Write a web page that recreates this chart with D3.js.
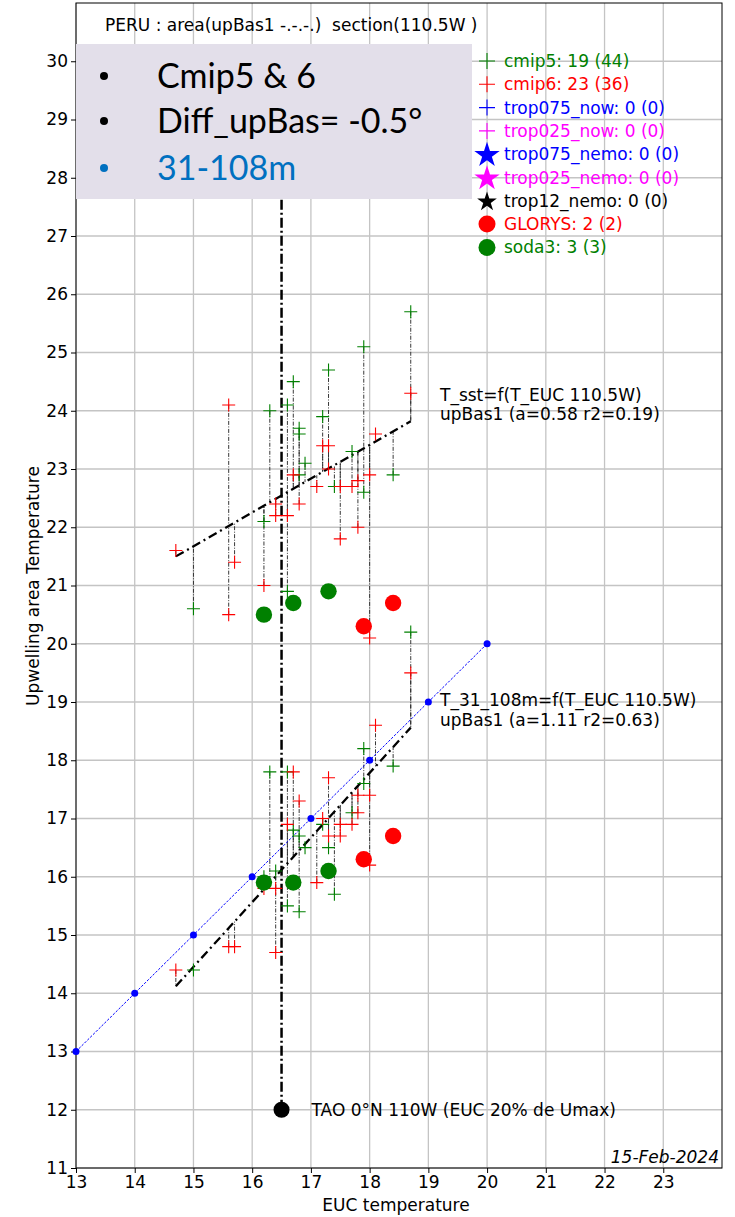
<!DOCTYPE html>
<html><head><meta charset="utf-8">
<script src="https://cdn.jsdelivr.net/npm/d3@7"></script>
<style>body{margin:0;background:#fff} text{white-space:pre}</style>
</head><body><svg id="c" width="735" height="1217"></svg>
<script>
// ---------- data ----------
const xTicks = [13,14,15,16,17,18,19,20,21,22,23];
const yTicks = [11,12,13,14,15,16,17,18,19,20,21,22,23,24,25,26,27,28,29,30];
// [EUC temperature, upwelling-area temperature]
const cmip5Sst = [[15.0,20.6],[16.2,22.1],[16.3,24.0],[16.6,24.1],[16.6,20.9],[16.7,24.5],[16.8,23.7],[16.8,23.6],[16.8,22.9],[16.9,23.1],[17.2,23.9],[17.3,24.7],[17.4,22.7],[17.7,23.3],[17.9,25.1],[17.9,22.6],[18.4,22.9],[18.7,25.7]];
const cmip5Sub = [[15.0,14.4],[16.2,16.0],[16.3,17.8],[16.4,16.1],[16.6,17.8],[16.6,15.5],[16.7,16.8],[16.8,16.7],[16.8,15.4],[16.9,16.5],[17.2,16.9],[17.3,16.5],[17.4,15.7],[17.7,17.1],[17.9,18.2],[17.9,17.6],[18.4,17.9],[18.7,20.2]];
const cmip6Sst = [[14.7,21.6],[15.6,24.1],[15.6,20.5],[15.7,21.4],[16.2,21.0],[16.4,22.4],[16.4,22.2],[16.6,22.2],[16.7,22.9],[16.8,22.4],[17.1,22.7],[17.2,23.4],[17.3,23.4],[17.3,23.0],[17.5,22.7],[17.5,21.8],[17.7,22.7],[17.8,22.8],[17.8,22.0],[18.0,22.9],[18.0,20.1],[18.1,23.6],[18.7,24.3]];
const cmip6Sub = [[14.7,14.4],[15.6,14.8],[15.7,14.8],[16.2,15.8],[16.4,15.8],[16.4,14.7],[16.6,16.9],[16.7,17.8],[16.8,17.3],[17.1,15.9],[17.2,17.0],[17.3,17.7],[17.3,16.7],[17.5,16.9],[17.5,16.7],[17.7,16.9],[17.8,17.1],[17.8,17.4],[18.0,17.4],[18.0,16.2],[18.1,18.6],[18.7,19.5]];
const glorysSst = [[17.9,20.3],[18.4,20.7]];
const glorysSub = [[17.9,16.3],[18.4,16.7]];
const soda3Sst = [[16.2,20.5],[16.7,20.7],[17.3,20.9]];
const soda3Sub = [[16.2,15.9],[16.7,15.9],[17.3,16.1]];
// regression: [slope, intercept, xmin, xmax]
const fitSst = [0.58, 12.974, 14.7, 18.7];
const fitSub = [1.11, -2.197, 14.7, 18.7];
const oneToOne = [13,14,15,16,17,18,19,20];
const tao = [16.5, 12];
const taoLineTop = 30;
const legendLabels = ["cmip5: 19 (44)","cmip6: 23 (36)","trop075_now: 0 (0)","trop025_now: 0 (0)","trop075_nemo: 0 (0)","trop025_nemo: 0 (0)","trop12_nemo: 0 (0)","GLORYS: 2 (2)","soda3: 3 (3)"];
const legendColors = ["#008000","#ff0000","#0000ff","#ff00ff","#0000ff","#ff00ff","#000000","#ff0000","#008000"];
const legendShapes = ["plus","plus","plus","plus","star","star","starS","circle","circle"];
const boxLines = ["Cmip5 & 6","Diff_upBas= -0.5°","31-108m"];
const boxColors = ["#000","#000","#0070c0"];

// ---------- layout ----------
const L=76, R=722, T=3, B=1168;
const svg = d3.select("#c");
const x = d3.scaleLinear().domain([13,24]).range([L,R]);
const y = d3.scaleLinear().domain([11,31]).range([B,T]);
const font = "DejaVu Sans, sans-serif";
const fs = 17;

// grid
const g = svg.append("g");
g.selectAll(".vx").data(xTicks).join("line")
  .attr("x1",d=>x(d)).attr("x2",d=>x(d)).attr("y1",T).attr("y2",B)
  .attr("stroke","#c4c4c4").attr("stroke-width",1.3);
g.selectAll(".hy").data(yTicks).join("line")
  .attr("y1",d=>y(d)).attr("y2",d=>y(d)).attr("x1",L).attr("x2",R)
  .attr("stroke","#c4c4c4").attr("stroke-width",1.3);

// axes
const xa = svg.append("g").attr("transform",`translate(0,${B})`)
  .call(d3.axisBottom(x).tickValues(xTicks).tickFormat(d3.format("d")).tickSize(5).tickPadding(3));
const ya = svg.append("g").attr("transform",`translate(${L},0)`)
  .call(d3.axisLeft(y).tickValues(yTicks).tickFormat(d3.format("d")).tickSize(5).tickPadding(3));
[xa,ya].forEach(a=>{a.select(".domain").remove();
  a.selectAll("text").attr("font-family",font).attr("font-size",fs).attr("fill","#000");
  a.selectAll("line").attr("stroke","#000");});
svg.append("rect").attr("x",L).attr("y",T).attr("width",R-L).attr("height",B-T)
  .attr("fill","none").attr("stroke","#000").attr("stroke-width",1);

// residual lines
function fitY(f,xv){return f[0]*xv+f[1];}
const resid = svg.append("g");
function residuals(pts,f){
  resid.selectAll(null).data(pts).join("line")
    .attr("x1",d=>x(d[0])).attr("x2",d=>x(d[0]))
    .attr("y1",d=>y(d[1])).attr("y2",d=>y(fitY(f,d[0])))
    .attr("stroke","#222").attr("stroke-width",0.9).attr("stroke-dasharray","4,1.5,1,1.5");
}
residuals(cmip5Sst,fitSst); residuals(cmip6Sst,fitSst);
residuals(cmip5Sub,fitSub); residuals(cmip6Sub,fitSub);

// regression lines
[fitSst,fitSub].forEach(f=>{
  svg.append("line").attr("x1",x(f[2])).attr("y1",y(fitY(f,f[2])))
    .attr("x2",x(f[3])).attr("y2",y(fitY(f,f[3])))
    .attr("stroke","#000").attr("stroke-width",2.3).attr("stroke-dasharray","9,4,2,4");
});

// 1:1 line
svg.append("path").datum(oneToOne)
  .attr("d",d3.line().x(d=>x(d)).y(d=>y(d)))
  .attr("fill","none").attr("stroke","#0000ff").attr("stroke-width",1).attr("stroke-dasharray","2.5,1.5");
svg.selectAll(".oo").data(oneToOne).join("circle")
  .attr("cx",d=>x(d)).attr("cy",d=>y(d)).attr("r",3.5).attr("fill","#0000ff");

// TAO vertical
svg.append("line").attr("x1",x(tao[0])).attr("x2",x(tao[0]))
  .attr("y1",y(tao[1])).attr("y2",y(taoLineTop))
  .attr("stroke","#000").attr("stroke-width",2.5).attr("stroke-dasharray","10,3,2,3");

// markers
function plus(sel,pts,col){
  sel.selectAll(null).data(pts).join("path")
    .attr("d",d=>`M${x(d[0])-6.5},${y(d[1])}h13M${x(d[0])},${y(d[1])-6.5}v13`)
    .attr("stroke",col).attr("stroke-width",1.1).attr("fill","none");
}
const mk = svg.append("g");
plus(mk,cmip5Sst,"#008000"); plus(mk,cmip5Sub,"#008000");
plus(mk,cmip6Sst,"#ff0000"); plus(mk,cmip6Sub,"#ff0000");
function dots(pts,col){
  svg.selectAll(null).data(pts).join("circle")
    .attr("cx",d=>x(d[0])).attr("cy",d=>y(d[1])).attr("r",8.2).attr("fill",col);
}
dots(soda3Sst,"#008000"); dots(soda3Sub,"#008000");
dots(glorysSst,"#ff0000"); dots(glorysSub,"#ff0000");
svg.append("circle").attr("cx",x(tao[0])).attr("cy",y(tao[1])).attr("r",8).attr("fill","#000");
svg.append("text").attr("x",x(tao[0])+30).attr("y",y(tao[1])+6)
  .attr("font-family",font).attr("font-size",fs).text("TAO 0°N 110W (EUC 20% de Umax)");

// fit annotations
const ann = [["T_sst=f(T_EUC 110.5W)",401],["upBas1 (a=0.58 r2=0.19)",420],
             ["T_31_108m=f(T_EUC 110.5W)",706],["upBas1 (a=1.11 r2=0.63)",726]];
svg.selectAll(".ann").data(ann).join("text")
  .attr("x",440).attr("y",d=>d[1]).attr("font-family",font).attr("font-size",fs).text(d=>d[0]);

// title
svg.append("text").attr("x",105).attr("y",31).attr("font-family",font).attr("font-size",fs).text("PERU : area(upBas1 -.-.-.)  section(110.5W )");

// box
svg.append("rect").attr("x",L).attr("y",44).attr("width",396).attr("height",155).attr("fill","#e3dfea");
const by=[88,133,180];
boxLines.forEach((t,i)=>{
  svg.append("circle").attr("cx",104).attr("cy",by[i]-12).attr("r",4).attr("fill",boxColors[i]);
  svg.append("text").attr("x",157).attr("y",by[i]).attr("font-family","Lato, Open Sans, sans-serif")
    .attr("font-size",34).attr("fill",boxColors[i]).text(t);
});

// legend
const star = d3.symbol().type(d3.symbolStar);
legendLabels.forEach((t,i)=>{
  const cy = 61 + i*23.3, cx = 487, col = legendColors[i], s = legendShapes[i];
  if(s==="plus") svg.append("path").attr("d",`M${cx-8},${cy}h16M${cx},${cy-8}v16`).attr("stroke",col).attr("stroke-width",1.1);
  else if(s==="star") svg.append("path").attr("d",star.size(200)()).attr("transform",`translate(${cx},${cy+1})`).attr("fill",col);
  else if(s==="starS") svg.append("path").attr("d",star.size(120)()).attr("transform",`translate(${cx},${cy+1})`).attr("fill",col);
  else svg.append("circle").attr("cx",cx).attr("cy",cy).attr("r",8.5).attr("fill",col);
  svg.append("text").attr("x",504).attr("y",cy+6).attr("font-family",font).attr("font-size",fs).attr("fill",col).text(t);
});

// date
svg.append("text").attr("x",719).attr("y",1163).attr("text-anchor","end").attr("font-family",font)
  .attr("font-size",fs).attr("font-style","italic").text("15-Feb-2024");

// axis titles
svg.append("text").attr("x",(L+R)/2 - 3).attr("y",1211).attr("text-anchor","middle").attr("font-family",font).attr("font-size",fs).text("EUC temperature");
svg.append("text").attr("transform","translate(39,586) rotate(-90)").attr("text-anchor","middle").attr("font-family",font).attr("font-size",fs).text("Upwelling area Temperature");
</script></body></html>
